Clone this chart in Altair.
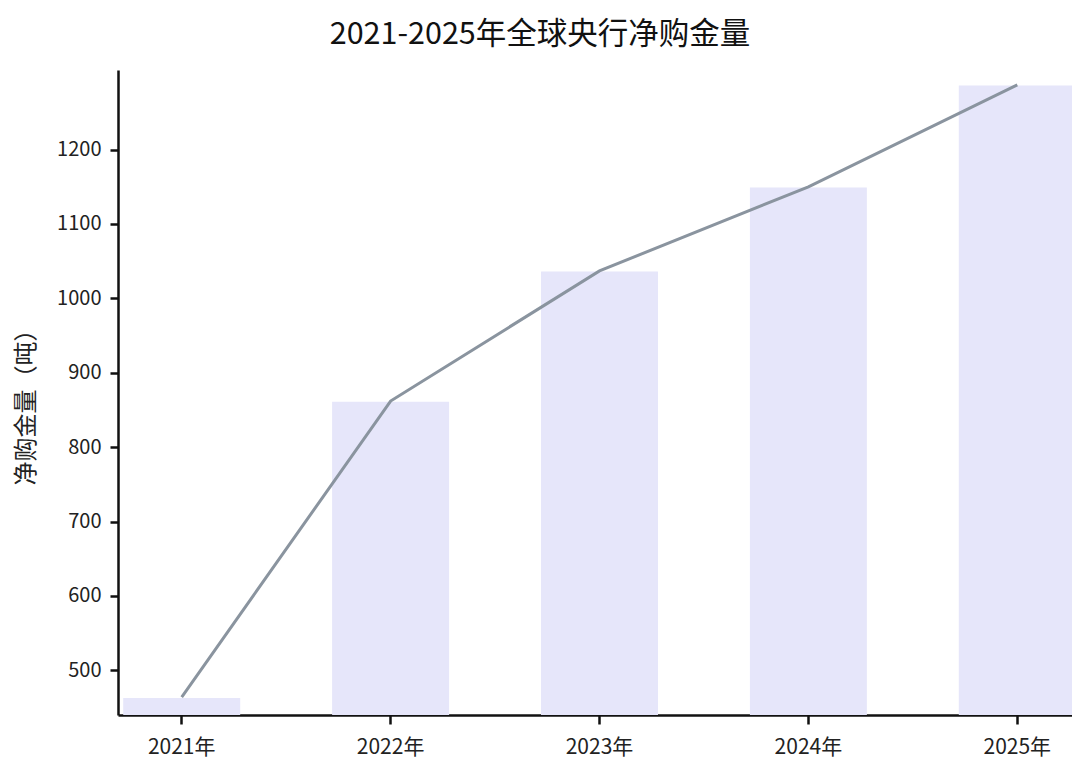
import altair as alt
import pandas as pd

years = ["2021年", "2022年", "2023年", "2024年", "2025年"]
bar_values = [463, 861, 1036, 1149, 1286]
line_values = [464, 862, 1037, 1150, 1287]

df = pd.DataFrame({"year": years, "bar": bar_values, "line": line_values})

FONT = "Noto Sans CJK SC"

x_scale = alt.Scale(paddingInner=0.44, paddingOuter=0.025, range=[0, 963])

x = alt.X(
    "year:N",
    sort=years,
    scale=x_scale,
    axis=alt.Axis(
        title=None,
        labelAngle=0,
        labelFontSize=21,
        labelFont=FONT,
        labelColor="#222222",
        domainColor="#111111",
        domainWidth=2.5,
        tickColor="#111111",
        tickWidth=2.5,
        tickSize=9,
        labelPadding=12,
    ),
)

y_scale = alt.Scale(domain=[440, 1307], nice=False, zero=False)
y_axis = alt.Axis(
    title="净购金量（吨）",
    titleFont=FONT,
    titleFontSize=24,
    titleFontWeight="normal",
    titleColor="#222222",
    titleAngle=-90,
    titleX=-92,
    titleY=331,
    titleAlign="center",
    titleBaseline="middle",
    values=[500, 600, 700, 800, 900, 1000, 1100, 1200],
    format="d",
    labelFontSize=20,
    labelFont=FONT,
    labelColor="#222222",
    domainColor="#111111",
    domainWidth=2.5,
    tickColor="#111111",
    tickWidth=2.5,
    tickSize=8,
    labelPadding=9,
    grid=False,
)

bars = alt.Chart(df).mark_bar(color="#E6E6FA", clip=True).encode(
    x=x,
    y=alt.Y("bar:Q", scale=y_scale, axis=y_axis),
)

line = alt.Chart(df).mark_line(color="#8A949F", strokeWidth=3).encode(
    x=alt.X("year:N", sort=years),
    y=alt.Y("line:Q", scale=y_scale),
)

chart = (
    alt.layer(bars, line)
    .properties(
        width=954,
        height=645,
        autosize=alt.AutoSizeParams(type="none"),
        padding={"left": 110, "top": 62, "right": 0, "bottom": 46},
        title=alt.TitleParams(
            "2021-2025年全球央行净购金量",
            font=FONT,
            fontSize=30.5,
            fontWeight="normal",
            color="#111111",
            anchor="middle",
            frame="group",
            offset=20,
            dx=-55,
        ),
    )
    .configure(background="white", view=alt.ViewConfig(stroke=None))
)

chart.save("out.html", embed_options={"renderer": "svg", "actions": False})
